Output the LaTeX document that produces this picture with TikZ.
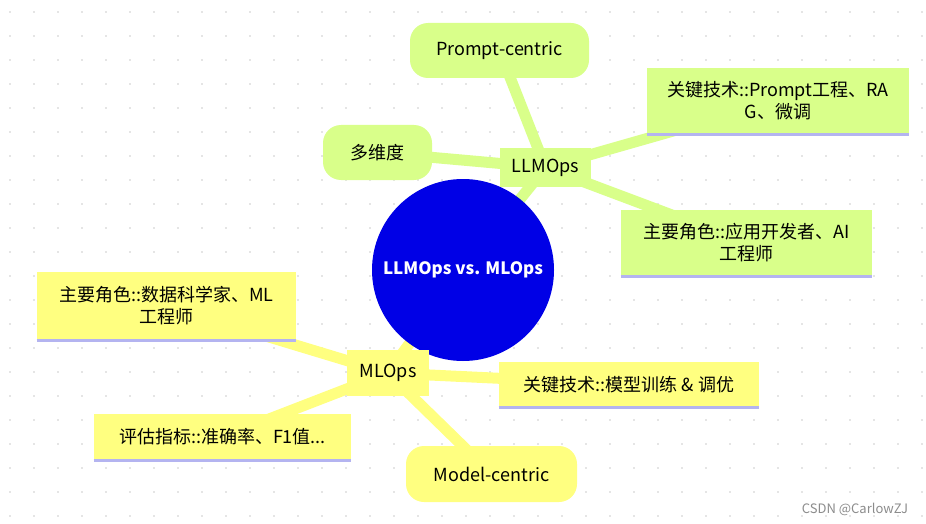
\documentclass[tikz,border=0pt]{standalone}
\usepackage{fontspec}
\setmainfont{Noto Sans CJK SC}
\usetikzlibrary{backgrounds}
\definecolor{gfill}{RGB}{217,255,138}
\definecolor{yfill}{RGB}{255,255,128}
\definecolor{blu}{RGB}{0,0,230}
\definecolor{ubar}{RGB}{180,180,240}
\begin{document}
\begin{tikzpicture}[x=1pt,y=-1pt,
  every node/.style={font=\fontsize{18}{22}\selectfont,align=center,inner sep=0pt},
  gbox/.style={fill=gfill},
  ybox/.style={fill=yfill},
  pill/.style={rounded corners=18pt},
  glink/.style={draw=gfill,line width=11pt},
  ylink/.style={draw=yfill,line width=11pt},
  ubl/.style={draw=ubar,line width=3pt}]
\useasboundingbox (0,0) rectangle (926,524);
\begin{scope}[on background layer]
\fill[white] (0,0) rectangle (926,524);
\foreach \i in {0,...,38} \foreach \j in {0,...,21}
  \fill[black!20] (\i*24+10,\j*24+12) circle (0.9);
\end{scope}
% nodes
\node[circle,fill=blu,minimum size=182pt,text=white,font=\fontsize{17}{20}\selectfont\bfseries] (c) at (463,270) {LLMOps vs. MLOps};
\node[gbox,minimum width=91pt,minimum height=39pt] (l) at (545.5,167.5) {LLMOps};
\node[gbox,pill,minimum width=179pt,minimum height=55pt] (pc) at (499.5,50.5) {Prompt-centric};
\node[gbox,pill,minimum width=109pt,minimum height=55pt] (dw) at (377.5,152.5) {多维度};
\node[gbox,minimum width=262pt,minimum height=66pt] (lk) at (778,101) {关键技术::Prompt工程、RA\\G、微调};
\node[gbox,minimum width=251pt,minimum height=66pt] (lr) at (746.5,243) {主要角色::应用开发者、AI\\工程师};
\node[ybox,minimum width=82pt,minimum height=46pt] (m) at (388,373) {MLOps};
\node[ybox,minimum width=259pt,minimum height=68pt] (mr) at (166.5,306) {主要角色::数据科学家、ML\\工程师};
\node[ybox,minimum width=260pt,minimum height=45pt] (mk) at (629,384.5) {关键技术::模型训练 \& 调优};
\node[ybox,minimum width=257pt,minimum height=46pt] (me) at (222.5,437) {评估指标::准确率、F1值...};
\node[ybox,pill,minimum width=171pt,minimum height=56pt] (mc) at (491.5,474) {Model-centric};
\node[text=black!45,font=\fontsize{13}{15}\selectfont] (wm) at (855,509) {CSDN @CarlowZJ};
\begin{scope}[on background layer]
\draw[glink] (c.center) -- (l.center);
\draw[glink] (l.center) -- (pc.center);
\draw[glink] (l.center) -- (dw.center);
\draw[glink] (l.center) -- (lk.center);
\draw[glink] (l.center) -- (lr.center);
\draw[ylink] (c.center) -- (m.center);
\draw[ylink] (m.center) -- (mr.center);
\draw[ylink] (m.center) -- (mk.center);
\draw[ylink] (m.center) -- (me.center);
\draw[ylink] (m.center) -- (mc.center);
\end{scope}
\foreach \n in {lk,lr,mr,mk,me} \draw[ubl] (\n.south west) -- (\n.south east);
\end{tikzpicture}
\end{document}
